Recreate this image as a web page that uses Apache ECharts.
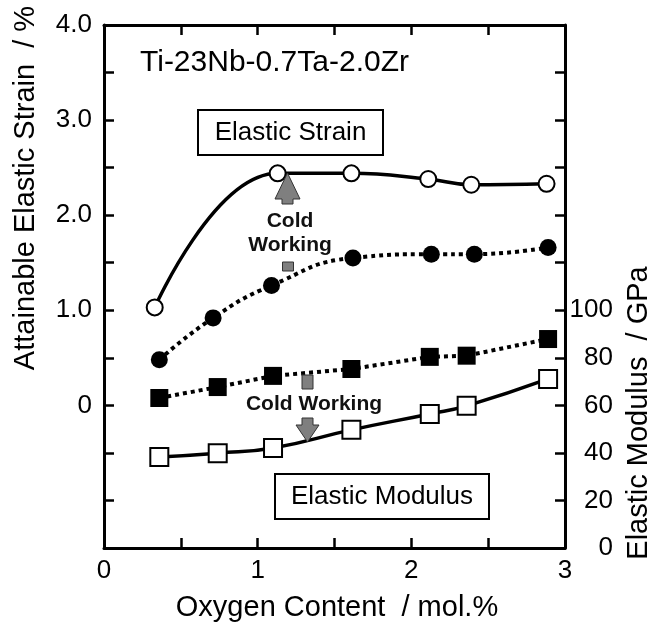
<!DOCTYPE html>
<html>
<head>
<meta charset="utf-8">
<script src="https://cdn.jsdelivr.net/npm/echarts@6/dist/echarts.min.js"></script>
<style>
  html, body { margin: 0; padding: 0; background: #fff; }
  #chart { width: 652px; height: 627px; }
</style>
</head>
<body>
<div id="chart"></div>
<script>
// Oxygen content (mol.%) and measured values for each series
var strainSolX = [0.33, 1.13, 1.61, 2.11, 2.39, 2.88];
var strainSolY = [1.03, 2.44, 2.44, 2.38, 2.32, 2.33];

var strainCwX = [0.36, 0.71, 1.09, 1.62, 2.13, 2.41, 2.89];
var strainCwY = [0.48, 0.92, 1.26, 1.55, 1.59, 1.59, 1.66];

var modulusCwX = [0.36, 0.74, 1.10, 1.61, 2.12, 2.36, 2.89];
var modulusCwY = [63.1, 67.7, 72.4, 75.3, 80.4, 80.9, 87.9];

var modulusSolX = [0.36, 0.74, 1.10, 1.61, 2.12, 2.36, 2.89];
var modulusSolY = [38.3, 39.9, 42.1, 49.7, 56.4, 59.8, 71.1];

// Tick ranges of the axes
var xTicks = { min: 0, max: 3, step: 0.5 };
var strainTicks = { min: -1.5, max: 4.0, step: 0.5 };
var modulusTicks = { min: 0, max: 220, step: 20 };

var FONT = 'Liberation Sans, Arial, Helvetica, sans-serif';

function pairs(xs, ys) {
  return xs.map(function (x, i) { return [x, ys[i]]; });
}

function frameLine() {
  return { show: true, onZero: false, lineStyle: { color: '#000', width: 3 } };
}
// tick marks point into the plot area on all four sides
function innerTicks() {
  return { show: true, inside: true, length: 10, lineStyle: { color: '#000', width: 2.5 } };
}

var chart = echarts.init(document.getElementById('chart'), null, { renderer: 'canvas' });

var openStyle = { color: '#fff', borderColor: '#000', borderWidth: 2 };
var fillStyle = { color: '#000', borderColor: '#000', borderWidth: 0 };

chart.setOption({
  animation: false,
  backgroundColor: '#fff',
  grid: { left: 104, right: 87, top: 25, bottom: 79, containLabel: false },
  xAxis: [
    {
      type: 'value', position: 'bottom',
      min: xTicks.min, max: xTicks.max, interval: xTicks.step,
      axisLine: frameLine(), axisTick: innerTicks(), splitLine: { show: false },
      axisLabel: {
        color: '#000', fontSize: 26, fontFamily: FONT, margin: 10,
        formatter: function (v) { return Math.abs(v % 1) < 1e-9 ? String(Math.round(v)) : ''; }
      }
    },
    {
      type: 'value', position: 'top',
      min: xTicks.min, max: xTicks.max, interval: xTicks.step,
      axisLine: frameLine(), axisTick: innerTicks(), splitLine: { show: false },
      axisLabel: { show: false }
    }
  ],
  yAxis: [
    {
      type: 'value', position: 'left',
      min: strainTicks.min, max: strainTicks.max, interval: strainTicks.step,
      axisLine: frameLine(), axisTick: innerTicks(), splitLine: { show: false },
      axisLabel: {
        color: '#000', fontSize: 26, fontFamily: FONT, margin: 12,
        formatter: function (v) {
          if (v < -1e-9 || Math.abs(v % 1) > 1e-9) return '';
          return Math.abs(v) < 1e-9 ? '0' : v.toFixed(1);
        }
      }
    },
    {
      type: 'value', position: 'right',
      min: modulusTicks.min, max: modulusTicks.max, interval: modulusTicks.step,
      axisLine: frameLine(), axisTick: innerTicks(), splitLine: { show: false },
      axisLabel: {
        color: '#000', fontSize: 26, fontFamily: FONT, margin: 48, align: 'right',
        formatter: function (v) { return v <= 100 ? String(v) : ''; }
      }
    }
  ],
  series: [
    {
      name: 'Elastic strain (solution treated)', type: 'line',
      xAxisIndex: 0, yAxisIndex: 0, data: pairs(strainSolX, strainSolY),
      smooth: 0.45, symbol: 'circle', symbolSize: 16,
      lineStyle: { color: '#000', width: 3.5, type: 'solid' },
      itemStyle: openStyle, z: 3
    },
    {
      name: 'Elastic strain (cold worked)', type: 'line',
      xAxisIndex: 0, yAxisIndex: 0, data: pairs(strainCwX, strainCwY),
      smooth: 0.5, symbol: 'circle', symbolSize: 17,
      lineStyle: { color: '#000', width: 4, type: [4, 4] },
      itemStyle: fillStyle, z: 3
    },
    {
      name: 'Elastic modulus (cold worked)', type: 'line',
      xAxisIndex: 0, yAxisIndex: 1, data: pairs(modulusCwX, modulusCwY),
      smooth: false, symbol: 'rect', symbolSize: 18,
      lineStyle: { color: '#000', width: 4, type: [4, 4] },
      itemStyle: fillStyle, z: 3
    },
    {
      name: 'Elastic modulus (solution treated)', type: 'line',
      xAxisIndex: 0, yAxisIndex: 1, data: pairs(modulusSolX, modulusSolY),
      smooth: 0.5, symbol: 'rect', symbolSize: 18,
      lineStyle: { color: '#000', width: 3.5, type: 'solid' },
      itemStyle: openStyle, z: 3
    }
  ],
  graphic: [
    // axis titles
    {
      type: 'text', x: 26, y: 188, rotation: Math.PI / 2,
      style: { text: 'Attainable Elastic Strain  / %', fill: '#000', font: '29px ' + FONT,
               textAlign: 'center', textVerticalAlign: 'middle' }
    },
    {
      type: 'text', x: 639, y: 413, rotation: Math.PI / 2,
      style: { text: 'Elastic Modulus  / GPa', fill: '#000', font: '29px ' + FONT,
               textAlign: 'center', textVerticalAlign: 'middle' }
    },
    {
      type: 'text', x: 337, y: 608,
      style: { text: 'Oxygen Content  / mol.%', fill: '#000', font: '29px ' + FONT,
               textAlign: 'center', textVerticalAlign: 'middle' }
    },
    // alloy label
    {
      type: 'text', x: 140, y: 63,
      style: { text: 'Ti-23Nb-0.7Ta-2.0Zr', fill: '#000', font: '30px ' + FONT,
               textAlign: 'left', textVerticalAlign: 'middle' }
    },
    // boxed series labels
    {
      type: 'rect', shape: { x: 198, y: 110, width: 185, height: 45 },
      style: { fill: '#fff', stroke: '#000', lineWidth: 2 }, z: 10
    },
    {
      type: 'text', x: 290.5, y: 133, z: 11,
      style: { text: 'Elastic Strain', fill: '#000', font: '26px ' + FONT,
               textAlign: 'center', textVerticalAlign: 'middle' }
    },
    {
      type: 'rect', shape: { x: 275, y: 474, width: 214, height: 45 },
      style: { fill: '#fff', stroke: '#000', lineWidth: 2 }, z: 10
    },
    {
      type: 'text', x: 382, y: 497, z: 11,
      style: { text: 'Elastic Modulus', fill: '#000', font: '26px ' + FONT,
               textAlign: 'center', textVerticalAlign: 'middle' }
    },
    // upward cold-working arrow (strain rises)
    {
      type: 'polygon', z: 10,
      shape: { points: [[287.5, 173], [300, 199], [293, 199], [293, 204], [282, 204], [282, 199], [275, 199]] },
      style: { fill: '#7f7f7f', stroke: '#333', lineWidth: 1 }
    },
    {
      type: 'rect', z: 10, shape: { x: 282.5, y: 262, width: 11, height: 9 },
      style: { fill: '#7f7f7f', stroke: '#333', lineWidth: 1 }
    },
    {
      type: 'text', x: 290, y: 221, z: 11,
      style: { text: 'Cold', fill: '#111', font: 'bold 21px ' + FONT,
               textAlign: 'center', textVerticalAlign: 'middle' }
    },
    {
      type: 'text', x: 290, y: 245, z: 11,
      style: { text: 'Working', fill: '#111', font: 'bold 21px ' + FONT,
               textAlign: 'center', textVerticalAlign: 'middle' }
    },
    // downward cold-working arrow (modulus drops)
    {
      type: 'rect', z: 10, shape: { x: 302, y: 375, width: 11, height: 14 },
      style: { fill: '#7f7f7f', stroke: '#333', lineWidth: 1 }
    },
    {
      type: 'polygon', z: 10,
      shape: { points: [[302, 418], [313, 418], [313, 425], [319, 425], [307.5, 442], [296, 425], [302, 425]] },
      style: { fill: '#7f7f7f', stroke: '#333', lineWidth: 1 }
    },
    {
      type: 'text', x: 314, y: 404, z: 11,
      style: { text: 'Cold Working', fill: '#111', font: 'bold 21px ' + FONT,
               textAlign: 'center', textVerticalAlign: 'middle' }
    }
  ]
});
</script>
</body>
</html>
